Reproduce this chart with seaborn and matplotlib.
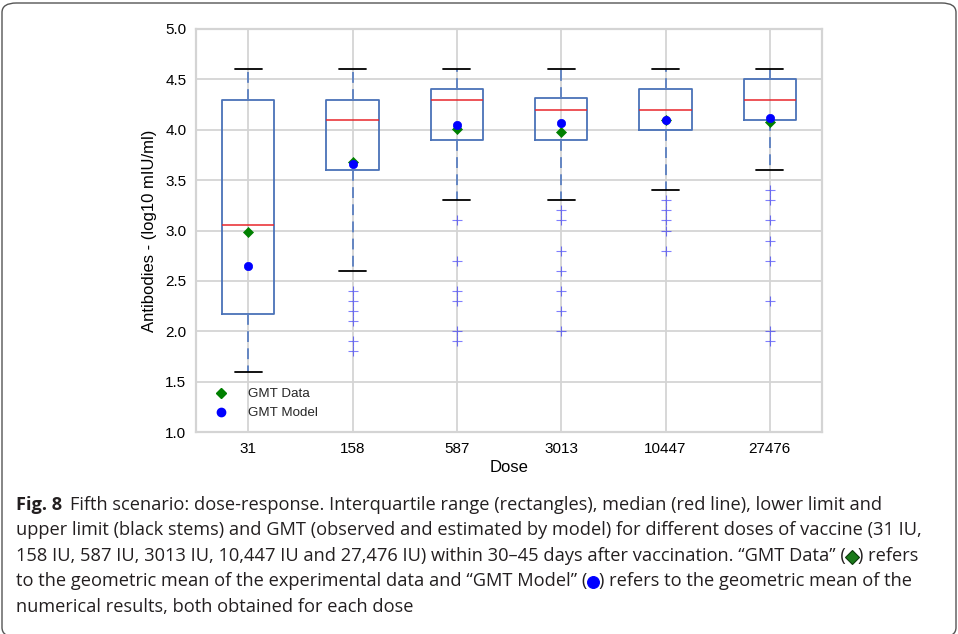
import numpy as np
import pandas as pd
import matplotlib
matplotlib.use("Agg")
import matplotlib.pyplot as plt
import seaborn as sns
from matplotlib.patches import FancyBboxPatch
from matplotlib.lines import Line2D

# Dose groups (IU) and antibody summaries, log10 mIU/ml
doses = ["31", "158", "587", "3013", "10447", "27476"]
whisker_low = [1.6, 2.6, 3.3, 3.3, 3.4, 3.6]
q1 = [2.17, 3.6, 3.9, 3.9, 4.0, 4.1]
median = [3.05, 4.1, 4.3, 4.2, 4.2, 4.3]
q3 = [4.3, 4.3, 4.4, 4.32, 4.4, 4.5]
whisker_high = [4.6, 4.6, 4.6, 4.6, 4.6, 4.6]
gmt_data = [2.99, 3.68, 4.01, 3.98, 4.10, 4.08]
gmt_model = [2.65, 3.66, 4.05, 4.07, 4.10, 4.12]
outliers_31 = []
outliers_158 = [2.4, 2.3, 2.2, 2.1, 1.9, 1.8]
outliers_587 = [3.1, 2.7, 2.4, 2.3, 2.0, 1.9]
outliers_3013 = [3.2, 3.1, 2.8, 2.6, 2.4, 2.2, 2.0]
outliers_10447 = [3.3, 3.2, 3.1, 3.0, 2.8]
outliers_27476 = [3.4, 3.3, 3.1, 2.9, 2.7, 2.3, 2.0, 1.9]
outliers = [outliers_31, outliers_158, outliers_587,
            outliers_3013, outliers_10447, outliers_27476]

sns.set_style("whitegrid")
plt.rcParams["font.family"] = ["Liberation Sans", "DejaVu Sans"]

W, H = 958, 634
fig = plt.figure(figsize=(W / 100, H / 100), dpi=100)
ax = fig.add_axes([196 / W, 1 - 432 / H, (822 - 196) / W, (432 - 29) / H])

grid_c = "#d4d4d4"
box_c = "#4a72b8"

stats = []
for i, d in enumerate(doses):
    stats.append(dict(label=d, med=median[i], q1=q1[i], q3=q3[i],
                      whislo=whisker_low[i], whishi=whisker_high[i],
                      fliers=np.array(outliers[i])))

pos = np.arange(len(doses))
ax.bxp(stats, positions=pos, widths=0.5, capwidths=0.26, showfliers=True,
       boxprops=dict(color=box_c, linewidth=1.3),
       whiskerprops=dict(color="#5a7fc0", linewidth=1.3, linestyle=(0, (6, 3.5))),
       capprops=dict(color="black", linewidth=1.3),
       medianprops=dict(color="#e8262b", linewidth=1.1),
       flierprops=dict(marker="+", markeredgecolor="blue", markersize=7,
                       markeredgewidth=0.8, alpha=0.5, linestyle="none"))

gmt = pd.DataFrame({"pos": np.concatenate([pos, pos]),
                    "value": gmt_data + gmt_model,
                    "kind": ["GMT Data"] * len(doses) + ["GMT Model"] * len(doses)})
sns.scatterplot(data=gmt[gmt.kind == "GMT Data"], x="pos", y="value", ax=ax,
                marker="D", color="green", s=26, edgecolor="green",
                linewidth=0.5, zorder=5, legend=False)
sns.scatterplot(data=gmt[gmt.kind == "GMT Model"], x="pos", y="value", ax=ax,
                marker="o", color="blue", s=36, edgecolor="blue",
                linewidth=0.5, zorder=6, legend=False)

ax.set_xlim(-0.5, len(doses) - 0.5)
ax.set_ylim(1.0, 5.0)
yt = np.arange(1.0, 5.01, 0.5)
ax.set_yticks(yt)
ax.set_yticklabels([f"{v:.1f}" for v in yt])
ax.set_xticks(pos)
ax.set_xticklabels(doses)
ax.tick_params(axis="both", length=0, labelsize=11, colors="black", pad=7)
ax.grid(True, color=grid_c, linewidth=1.3)
ax.set_axisbelow(True)
for sp in ax.spines.values():
    sp.set_color(grid_c)
    sp.set_linewidth(1.6)

ax.set_xlabel("Dose", fontsize=12, labelpad=3, color="black")
ax.set_ylabel("Antibodies - (log10 mIU/ml)", fontsize=12, labelpad=6, color="black")

handles = [Line2D([], [], marker="D", color="green", linestyle="none", markersize=5),
           Line2D([], [], marker="o", color="blue", linestyle="none", markersize=6)]
ax.legend(handles, ["GMT Data", "GMT Model"], loc="lower left",
          bbox_to_anchor=(0.0, 0.002), frameon=False, fontsize=9.6,
          handletextpad=1.0, labelspacing=0.5, borderpad=0.4)

# figure frame with rounded corners; its bottom edge runs just past the canvas
frame_top = 3
frame_bottom = H + 3
frame = FancyBboxPatch((2 / W, 1 - frame_bottom / H), (W - 4) / W,
                       (frame_bottom - frame_top) / H,
                       boxstyle="round,pad=0,rounding_size=0.015",
                       transform=fig.transFigure, fill=False,
                       edgecolor="#555555", linewidth=1.0, clip_on=False)
fig.patches.append(frame)

cap_font = ["Liberation Sans Narrow", "Open Sans", "DejaVu Sans"]
cap_color = "#231f20"
left_px = 16
ys = [505, 530, 556, 581, 607]
line1 = "Fifth scenario: dose-response. Interquartile range (rectangles), median (red line), lower limit and"
line2 = "upper limit (black stems) and GMT (observed and estimated by model) for different doses of vaccine (31 IU,"
line3a = "158 IU, 587 IU, 3013 IU, 10,447 IU and 27,476 IU) within 30\u201345 days after vaccination. \u201cGMT Data\u201d ("
line3b = ") refers"
line4a = "to the geometric mean of the experimental data and \u201cGMT Model\u201d ("
line4b = ") refers to the geometric mean of the"
line5 = "numerical results, both obtained for each dose"

fig.canvas.draw()
r = fig.canvas.get_renderer()

# size the caption so the second line spans the caption width
probe = fig.text(0, 0, line2, fontsize=10, family=cap_font)
w10 = probe.get_window_extent(r).width
probe.remove()
cap_size = 10 * (921 - left_px) / w10


def put(x_px, y_px, s, **kw):
    t = fig.text(x_px / W, 1 - y_px / H, s, fontsize=cap_size, family=cap_font,
                 va="center", ha="left", color=cap_color, **kw)
    return t.get_window_extent(r).x1


def marker_at(x_px, y_px, mk, fc, ec, ms):
    fig.add_artist(Line2D([x_px / W], [1 - y_px / H], marker=mk, markersize=ms,
                          markerfacecolor=fc, markeredgecolor=ec,
                          markeredgewidth=0.8, transform=fig.transFigure))


xe = put(left_px, ys[0], "Fig. 8", weight="bold")
put(xe + 8, ys[0], line1)
put(left_px, ys[1], line2)

xe = put(left_px, ys[2], line3a)
marker_at(xe + 6, ys[2] + 1, "D", "#1a7a1a", "#0a3a0a", 7.5)
put(xe + 12, ys[2], line3b)

xe = put(left_px, ys[3], line4a)
marker_at(xe + 6, ys[3] + 1, "o", "blue", "blue", 8.5)
put(xe + 12, ys[3], line4b)

put(left_px, ys[4], line5)

fig.savefig("out.png", dpi=100)
